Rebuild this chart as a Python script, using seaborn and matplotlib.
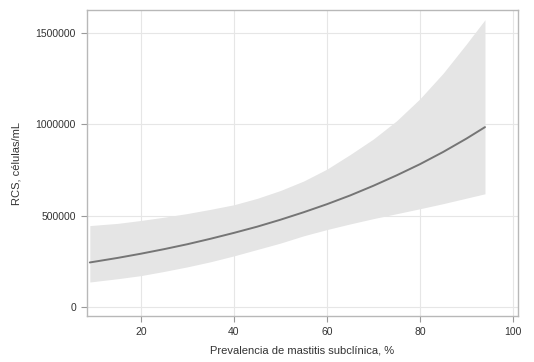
import numpy as np
import pandas as pd
import matplotlib
matplotlib.use("Agg")
import matplotlib.pyplot as plt
import seaborn as sns

# valores
prevalencia = [9, 15, 20, 25, 30, 35, 40, 45, 50, 55, 60, 65, 70, 75, 80, 85, 90, 94]
rcs_pred = [244000, 269000, 292000, 317000, 344000, 374000, 406000, 440000, 478000,
            519000, 563000, 611000, 664000, 721000, 782000, 849000, 922000, 985000]
rcs_sup = [446000, 458000, 474000, 492000, 512000, 535000, 560000, 595000, 638000,
           690000, 755000, 835000, 920000, 1020000, 1140000, 1280000, 1440000, 1573000]
rcs_inf = [137000, 155000, 172000, 195000, 220000, 248000, 280000, 315000, 350000,
           390000, 424000, 455000, 484000, 511000, 538000, 566000, 596000, 620000]

x_ticks = [20, 40, 60, 80, 100]
y_ticks = [0, 500000, 1000000, 1500000]

df = pd.DataFrame({"prev": prevalencia, "rcs": rcs_pred, "sup": rcs_sup, "inf": rcs_inf})

sns.set_theme(style="whitegrid")
plt.rcParams['font.family'] = ['Liberation Sans', 'DejaVu Sans']

fig = plt.figure(figsize=(5.34, 3.62), dpi=100)
ax = fig.add_axes([0.163, 0.127, 0.807, 0.845])

ax.fill_between(df["prev"], df["inf"], df["sup"], color="#e5e5e5", linewidth=0, zorder=2)
sns.lineplot(data=df, x="prev", y="rcs", ax=ax, color="#757575", linewidth=1.4, zorder=3)

ax.set_xlim(8.4, 101.1)
ax.set_ylim(-49300, 1625600)
ax.set_xticks(x_ticks)
ax.set_yticks(y_ticks)
ax.set_yticklabels([str(v) for v in y_ticks])

ax.grid(True, color="#e6e6e6", linewidth=0.8)
for s in ax.spines.values():
    s.set_visible(True)
    s.set_color("#b8b8b8")
    s.set_linewidth(1.0)

ax.tick_params(axis="both", which="both", direction="out", length=4, width=0.8,
               color="#9a9a9a", labelsize=7.5, labelcolor="#333333", pad=4)
ax.tick_params(left=True, bottom=True)

ax.set_xlabel("Prevalencia de mastitis subclínica, %", fontsize=8, color="#333333", labelpad=6)
ax.set_ylabel("RCS, células/mL", fontsize=8, color="#333333", labelpad=10)

fig.savefig("out.png", dpi=100, facecolor="white")
